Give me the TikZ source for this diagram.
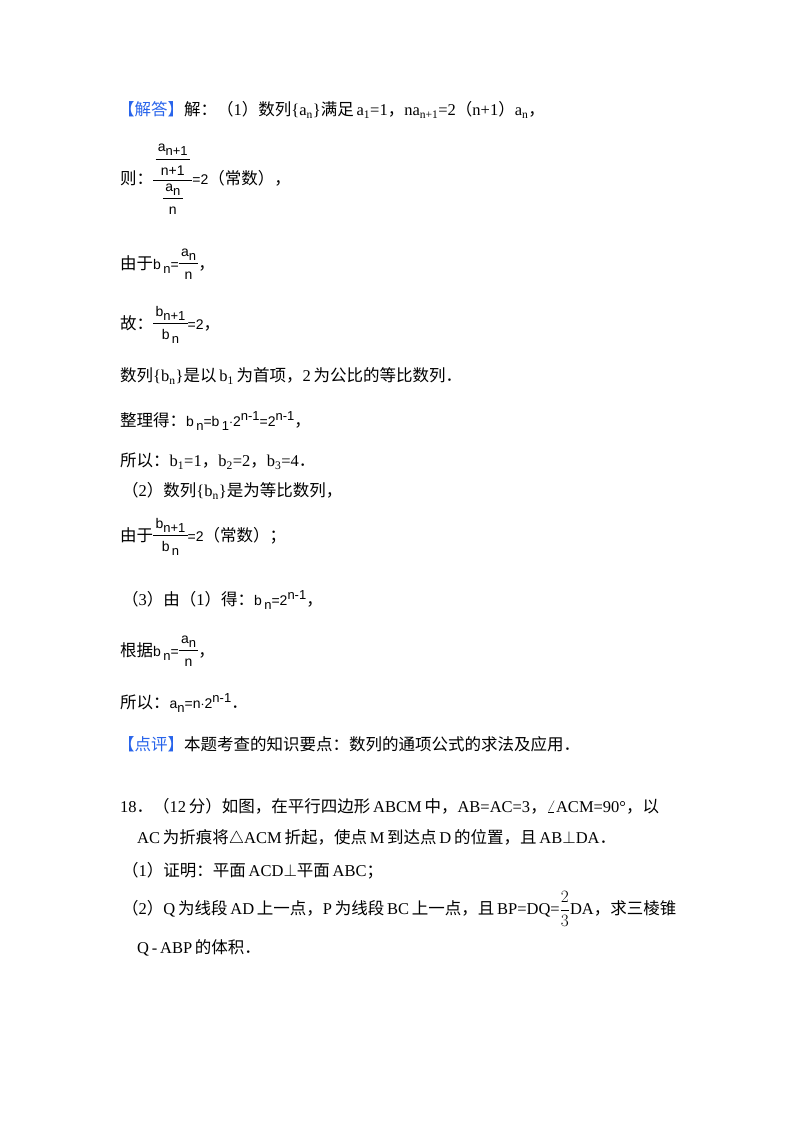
\documentclass[tikz,border=0pt]{standalone}
\usepackage{fontspec}
\setmainfont{Noto Sans CJK SC}
\newfontfamily\lt{Liberation Serif}
\newfontfamily\ls{Liberation Sans}
\definecolor{hdblue}{RGB}{40,100,235}
\tikzset{line/.style={anchor=west,inner sep=0pt,font=\fontsize{16.5}{19}\selectfont}}
\newcommand{\la}[1]{{\lt #1}}
\newcommand{\ms}[1]{{\ls\fontsize{14}{16}\selectfont #1}}
\newcommand{\sbs}[1]{\raisebox{-4pt}{\fontsize{13}{15}\selectfont #1}}
\newcommand{\sps}[1]{\raisebox{6pt}{\fontsize{13}{15}\selectfont #1}}
\newcommand{\mfrac}[2]{$\vcenter{\hbox{\ms{\begin{tabular}{@{\,}c@{\,}}#1\\[2pt]\hline\rule{0pt}{16pt}#2\end{tabular}}}}$}
\begin{document}
\begin{tikzpicture}[x=1pt,y=-1pt]
\useasboundingbox (0,0) rectangle (800,1132);
\fill[white] (0,0) rectangle (800,1132);
\node[line] (l1) at (118,110) {{\color{hdblue}【解答】}解：（\la{1}）数列\la{\{a\textsubscript{n}\}}满足\,\la{a\textsubscript{1}=1}，\la{na\textsubscript{n+1}=2}（\la{n+1}）\la{a\textsubscript{n}}，};
\node[line] (l2) at (120,180) {则：\mfrac{\mfrac{a\sbs{n+1}}{n+1}}{\mfrac{a\sbs{n}}{n}}\ms{=2}（常数），};
\node[line] (l3) at (120,265) {由于\ms{b\,\sbs{n}=}\mfrac{a\sbs{n}}{n}，};
\node[line] (l4) at (120,325) {故：\mfrac{b\sbs{n+1}}{b\,\sbs{n}}\ms{=2}，};
\node[line] (l5) at (120,376) {数列\la{\{b\textsubscript{n}\}}是以\,\la{b\textsubscript{1}}\,为首项，\la{2}\,为公比的等比数列．};
\node[line] (l6) at (120,421) {整理得：\ms{b\,\sbs{n}=b\,\sbs{1}$\cdot$2\sps{n-1}=2\sps{n-1}}，};
\node[line] (l7) at (120,461) {所以：\la{b\textsubscript{1}=1}，\la{b\textsubscript{2}=2}，\la{b\textsubscript{3}=4}．};
\node[line] (l8) at (122,491) {（\la{2}）数列\la{\{b\textsubscript{n}\}}是为等比数列，};
\node[line] (l9) at (120,537) {由于\mfrac{b\sbs{n+1}}{b\,\sbs{n}}\ms{=2}（常数）；};
\node[line] (l10) at (122,600) {（\la{3}）由（\la{1}）得：\ms{b\,\sbs{n}=2\sps{n-1}}，};
\node[line] (l11) at (120,652) {根据\ms{b\,\sbs{n}=}\mfrac{a\sbs{n}}{n}，};
\node[line] (l12) at (120,703) {所以：\ms{a\sbs{n}=n$\cdot$2\sps{n-1}}．};
\node[line] (l13) at (118,744) {{\color{hdblue}【点评】}本题考查的知识要点：数列的通项公式的求法及应用．};
\node[line] (q1) at (120,806) {\la{18}．（\la{12}\,分）如图，在平行四边形\,\la{ABCM}\,中，\la{AB=AC=3}，\la{$\angle$ACM=90°}，以};
\node[line] (q2) at (137,838) {\la{AC}\,为折痕将\la{$\triangle$ACM}\,折起，使点\,\la{M}\,到达点\,\la{D}\,的位置，且\,\la{AB$\perp$DA}．};
\node[line] (q3) at (122,871) {（\la{1}）证明：平面\,\la{ACD$\perp$}平面\,\la{ABC}；};
\node[line] (q4) at (122,909) {（\la{2}）\la{Q}\,为线段\,\la{AD}\,上一点，\la{P}\,为线段\,\la{BC}\,上一点，且\,\la{BP=DQ=$\displaystyle\frac{2}{3}$DA}，求三棱锥};
\node[line] (q5) at (137,948) {\la{Q\,-\,ABP}\,的体积．};
\end{tikzpicture}
\end{document}
